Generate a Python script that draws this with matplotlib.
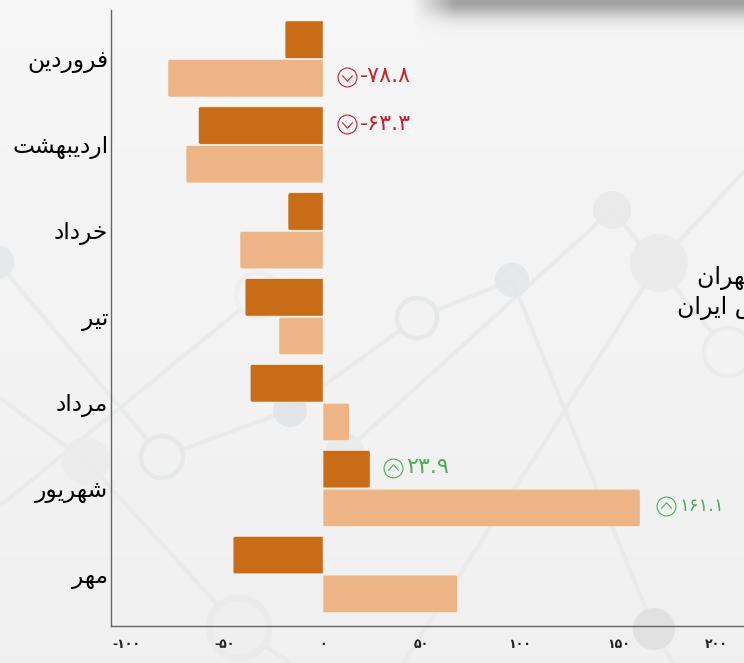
"""Monthly change bars on the network-pattern background."""

import numpy as np
from matplotlib import pyplot as plt
from matplotlib.patches import Circle, PathPatch
from matplotlib.path import Path
from matplotlib.transforms import offset_copy

months = ["فروردین", "اردیبهشت", "خرداد", "تیر", "مرداد", "شهریور", "مهر"]
tehran_values = [-19.3, -63.3, -17.8, -39.6, -37.0, 23.9, -45.7]
farabourse_values = [-78.8, -69.6, -42.2, -22.4, 13.3, 161.1, 68.3]
x_ticks = [-100, -50, 0, 50, 100, 150, 200]
legend_names = ["بورس تهران", "فرابورس ایران"]

# decoration of the background, in pixels of the picture
filled_nodes = [
    (-3, 262, 17, "#e6e7e8"), (290, 410, 17, "#e3e4e5"), (86, 461, 24, "#ececed"),
    (345, 452, 19, "#e9eaea"), (512, 280, 17, "#e5e6e7"), (612, 210, 19, "#e9e9e9"),
    (659, 263, 29, "#ebebeb"), (654, 629, 21, "#e0e0e0"),
]
ring_nodes = [
    (162, 457, 21, 4.5, "#e7e8e8"), (417, 318, 20, 4.5, "#e7e8e8"),
    (258, 295, 22, 4.5, "#eeeeee"), (728, 352, 24, 4.5, "#ebebeb"),
    (239, 628, 30, 6.5, "#ebebeb"),
]
net_lines = [
    ((-3, 262), (162, 457)), ((162, 457), (290, 410)), ((258, 295), (0, 506)),
    ((0, 398), (86, 461)), ((86, 461), (239, 628)), ((239, 628), (290, 663)),
    ((290, 410), (417, 318)), ((417, 318), (512, 280)), ((345, 452), (612, 210)),
    ((512, 280), (654, 629)), ((654, 629), (675, 668)), ((659, 263), (750, 165)),
    ((659, 263), (400, 668)), ((612, 210), (728, 352)),
]

FORMS = {
    "ا": (0xFE8D, 0xFE8E, None, None), "د": (0xFEA9, 0xFEAA, None, None),
    "ر": (0xFEAD, 0xFEAE, None, None), "و": (0xFEED, 0xFEEE, None, None),
    "ب": (0xFE8F, 0xFE90, 0xFE91, 0xFE92), "ت": (0xFE95, 0xFE96, 0xFE97, 0xFE98),
    "خ": (0xFEA5, 0xFEA6, 0xFEA7, 0xFEA8), "س": (0xFEB1, 0xFEB2, 0xFEB3, 0xFEB4),
    "ش": (0xFEB5, 0xFEB6, 0xFEB7, 0xFEB8), "ف": (0xFED1, 0xFED2, 0xFED3, 0xFED4),
    "م": (0xFEE1, 0xFEE2, 0xFEE3, 0xFEE4), "ن": (0xFEE5, 0xFEE6, 0xFEE7, 0xFEE8),
    "ه": (0xFEE9, 0xFEEA, 0xFEEB, 0xFEEC), "ی": (0xFBFC, 0xFBFD, 0xFBFE, 0xFBFF),
}
DIGITS = str.maketrans("0123456789", "۰۱۲۳۴۵۶۷۸۹")


def shape(text: str) -> str:
    """Join the Persian letters and put them in drawing order."""
    out = []
    for i, ch in enumerate(text):
        if ch not in FORMS:
            out.append(ch)
            continue
        before = i > 0 and text[i - 1] in FORMS and FORMS[text[i - 1]][2] is not None
        after = i + 1 < len(text) and text[i + 1] in FORMS
        forms = FORMS[ch]
        if before and after and forms[3]:
            out.append(chr(forms[3]))
        elif before:
            out.append(chr(forms[1]))
        elif after and forms[2]:
            out.append(chr(forms[2]))
        else:
            out.append(chr(forms[0]))
    return "".join(reversed(out))


def rounded_bar(ax, value, y, height, color, rx=1.0, ry=0.024):
    """Bar from zero to value with the two far corners rounded."""
    rx = rx if value > 0 else -rx
    verts = [
        (0, y - height / 2), (value - rx, y - height / 2), (value, y - height / 2),
        (value, y - height / 2 + ry), (value, y + height / 2 - ry), (value, y + height / 2),
        (value - rx, y + height / 2), (0, y + height / 2), (0, y - height / 2),
    ]
    codes = [Path.MOVETO, Path.LINETO, Path.CURVE3, Path.CURVE3, Path.LINETO,
             Path.CURVE3, Path.CURVE3, Path.LINETO, Path.CLOSEPOLY]
    ax.add_patch(PathPatch(Path(verts, codes), fc=color, ec="#f6f4f1", lw=0.4, zorder=3))


def base_shade(y):
    """Grey level of the background at height y."""
    return 245.5 - 6.5 * y / 663


def draw_background(fig):
    """Grey gradient, shadow at the top and the network pattern."""
    bg = fig.add_axes([0, 0, 1, 1], zorder=-1)
    xx, yy = np.meshgrid(np.arange(744), np.arange(663))
    edge = np.clip((xx - 412) / 42, 0, 1)
    shade = base_shade(yy) - 84 * edge * np.exp(-((yy / 17.0) ** 2))
    bg.imshow(shade, cmap="gray", vmin=0, vmax=255, extent=(0, 744, 663, 0), aspect="auto")
    for start, end in net_lines:
        bg.plot(*zip(start, end), color="#e9eaea", lw=2.9, solid_capstyle="butt", zorder=1)
    for x, y, r, color in filled_nodes:
        bg.add_patch(Circle((x, y), r, fc=color, ec="none", alpha=0.9, zorder=2))
    for x, y, r, width, color in ring_nodes:
        fill = str(base_shade(y) / 255)
        bg.add_patch(Circle((x, y), r, fc=fill, ec=color, lw=width * 0.72, zorder=2))
    bg.set_xlim(0, 744)
    bg.set_ylim(663, 0)
    bg.axis("off")


def change_marker(up: bool) -> Path:
    """Circle with a chevron inside."""
    sign = -1 if up else 1
    circle = Path.unit_circle()
    chevron = Path([(-0.55, 0.22 * sign), (0, -0.4 * sign), (0.55, 0.22 * sign)])
    return Path.make_compound_path(circle, chevron)


def annotate_change(fig, ax, value, y, base, icon_dx, size=16):
    """Icon and number beside a bar."""
    color = "#4caf50" if value > 0 else "#c8202f"
    trans = offset_copy(ax.transData, fig=fig, x=icon_dx, y=1.5, units="dots")
    ax.plot([base], [y], transform=trans, marker=change_marker(value > 0), ms=13.6,
            mfc="none", mec=color, mew=0.8, ls="none", zorder=4, clip_on=False)
    text = f"{value:.1f}".translate(DIGITS)
    ax.annotate(text, xy=(base, y), xytext=(icon_dx + 13, 2), textcoords="offset pixels",
                color=color, fontsize=size, va="center", ha="left", zorder=4)


def plot(output_file: str):
    """Draw the chart."""
    fig = plt.figure(figsize=(7.44, 6.63), dpi=100)
    draw_background(fig)

    ax = fig.add_axes([110.5 / 744, 37 / 663, 633.5 / 744, 616 / 663])
    ax.patch.set_alpha(0)
    positions = np.arange(len(months))
    for y, dark, light in zip(positions, tehran_values, farabourse_values):
        rounded_bar(ax, dark, y - 0.225, 0.435, "#c96c18")
        rounded_bar(ax, light, y + 0.225, 0.435, "#edb485")

    ax.set_xlim(-108, 213.9)
    ax.set_ylim(6.6, -0.57)
    ax.set_yticks(positions, [shape(m) for m in months], fontsize=16.8, color="black")
    ax.set_xticks(x_ticks, [str(t).translate(DIGITS) for t in x_ticks],
                  fontsize=9, fontweight="bold", color="#222222")
    ax.tick_params(length=0)
    ax.tick_params(axis="y", pad=1.5)
    ax.tick_params(axis="x", pad=8.5)
    for side in ("top", "right"):
        ax.spines[side].set_visible(False)
    for side in ("left", "bottom"):
        ax.spines[side].set_color("#666666")
        ax.spines[side].set_linewidth(1)

    annotate_change(fig, ax, farabourse_values[0], positions[0] + 0.225, 0, 24)
    annotate_change(fig, ax, tehran_values[1], positions[1] - 0.225, 0, 24)
    annotate_change(fig, ax, tehran_values[5], positions[5] - 0.225, tehran_values[5], 23)
    annotate_change(fig, ax, farabourse_values[5], positions[5] + 0.225, farabourse_values[5], 26, size=13)

    # legend entries run off the right edge of the picture
    fig.text(697 / 744, 1 - 278 / 663, shape(legend_names[0]), fontsize=17, va="center", ha="left")
    fig.text(677 / 744, 1 - 308 / 663, shape(legend_names[1]), fontsize=17, va="center", ha="left")

    fig.savefig(output_file, dpi=100)


if __name__ == "__main__":
    plot("out.png")
